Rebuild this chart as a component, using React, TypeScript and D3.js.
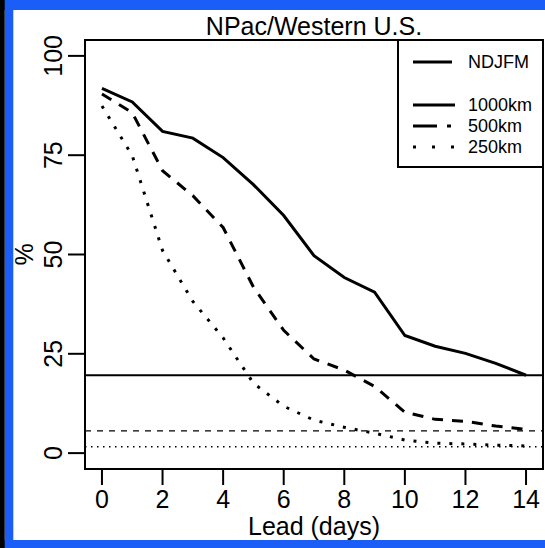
import * as d3 from "d3";

// lead time (days) and percent of forecasts within distance threshold
const leadDays = [0, 1, 2, 3, 4, 5, 6, 7, 8, 9, 10, 11, 12, 13, 14];
const pct1000 = [91.8, 88.4, 81.0, 79.3, 74.4, 67.6, 59.8, 49.7, 44.2, 40.5, 29.6, 26.9, 25.1, 22.6, 19.6];
const pct500 = [90.4, 85.7, 71.1, 64.8, 56.8, 41.8, 30.9, 23.7, 20.9, 16.8, 10.3, 8.5, 8.0, 6.8, 6.0];
const pct250 = [87.4, 74.9, 51.0, 38.2, 29.0, 17.6, 11.8, 8.3, 6.5, 5.0, 3.3, 2.5, 2.3, 2.0, 1.8];
// reference (climatology) levels for 1000km / 500km / 250km
const refLevels = [19.6, 5.6, 1.6];

const xTicks = [0, 2, 4, 6, 8, 10, 12, 14];
const yTicks = [0, 25, 50, 75, 100];
const legendLabels = ["1000km", "500km", "250km"];

const W = 545;
const H = 548;
const box = { left: 85, right: 543, top: 40, bottom: 469 };
const FONT = "'Liberation Sans', Arial, Helvetica, sans-serif";
const BLUE = "#1b5ef7";

// curve styles: solid / dashed / dotted (R lty 1,2,3)
const curveDash = [null, "11 9", "3 9"];
const legendDash = [null, "24 10 4 10", "3 16"];
const refDash = [null, "6 6", "1.5 4.5"];

export default function App() {
  const x = d3.scaleLinear().domain([-0.56, 14.56]).range([box.left, box.right]);
  const y = d3.scaleLinear().domain([-4, 104]).range([box.bottom, box.top]);

  const series = [pct1000, pct500, pct250];
  const line = d3
    .line<number>()
    .x((_, i) => x(leadDays[i]))
    .y((d) => y(d));

  const legendY = [105, 126, 147];

  return (
    <div style={{ position: "fixed", left: 0, top: 0 }}>
      <svg width={W} height={H} style={{ display: "block" }} fontFamily={FONT}>
        <rect x={0} y={0} width={W} height={H} fill="#ffffff" />
        {/* frame */}
        <rect x={0} y={0} width={W} height={10} fill={BLUE} />
        <rect x={0} y={540} width={W} height={8} fill={BLUE} />
        <rect x={4.7} y={0} width={8.6} height={H} fill={BLUE} />
        <rect x={0} y={0} width={4.7} height={H} fill="#000000" />

        <text x={314} y={35} textAnchor="middle" fontSize={25}>
          NPac/Western U.S.
        </text>

        {/* reference lines */}
        {refLevels.map((v, i) => (
          <line
            key={"ref" + i}
            x1={box.left}
            x2={box.right}
            y1={y(v)}
            y2={y(v)}
            stroke="#000"
            strokeWidth={i === 0 ? 2 : 1.4}
            strokeDasharray={refDash[i] ?? undefined}
          />
        ))}

        {/* curves */}
        {series.map((s, i) => (
          <path
            key={"s" + i}
            d={line(s) ?? ""}
            fill="none"
            stroke="#000"
            strokeWidth={3}
            strokeDasharray={curveDash[i] ?? undefined}
          />
        ))}

        {/* plot box */}
        <rect
          x={box.left}
          y={box.top}
          width={box.right - box.left}
          height={box.bottom - box.top}
          fill="none"
          stroke="#000"
          strokeWidth={2}
        />

        {/* y axis */}
        {yTicks.map((t) => (
          <g key={"yt" + t}>
            <line x1={68} x2={box.left} y1={y(t)} y2={y(t)} stroke="#000" strokeWidth={2} />
            <text
              transform={`translate(62,${y(t)}) rotate(-90)`}
              textAnchor="middle"
              fontSize={25}
            >
              {t}
            </text>
          </g>
        ))}
        <text transform={`translate(33,${(box.top + box.bottom) / 2}) rotate(-90)`} textAnchor="middle" fontSize={25}>
          %
        </text>

        {/* x axis */}
        {xTicks.map((t) => (
          <g key={"xt" + t}>
            <line x1={x(t)} x2={x(t)} y1={box.bottom} y2={485} stroke="#000" strokeWidth={2} />
            <text x={x(t)} y={508} textAnchor="middle" fontSize={25}>
              {t}
            </text>
          </g>
        ))}
        <text x={(box.left + box.right) / 2} y={535} textAnchor="middle" fontSize={25}>
          Lead (days)
        </text>

        {/* legend */}
        <rect x={398} y={box.top} width={box.right - 398} height={127} fill="#fff" stroke="#000" strokeWidth={2} />
        <line x1={413} x2={452} y1={62} y2={62} stroke="#000" strokeWidth={3} />
        <text x={468} y={68} fontSize={18}>
          NDJFM
        </text>
        {legendLabels.map((lab, i) => (
          <g key={"lg" + i}>
            <line
              x1={413}
              x2={455}
              y1={legendY[i]}
              y2={legendY[i]}
              stroke="#000"
              strokeWidth={3}
              strokeDasharray={legendDash[i] ?? undefined}
            />
            <text x={468} y={legendY[i] + 6} fontSize={18}>
              {lab}
            </text>
          </g>
        ))}
      </svg>
    </div>
  );
}
